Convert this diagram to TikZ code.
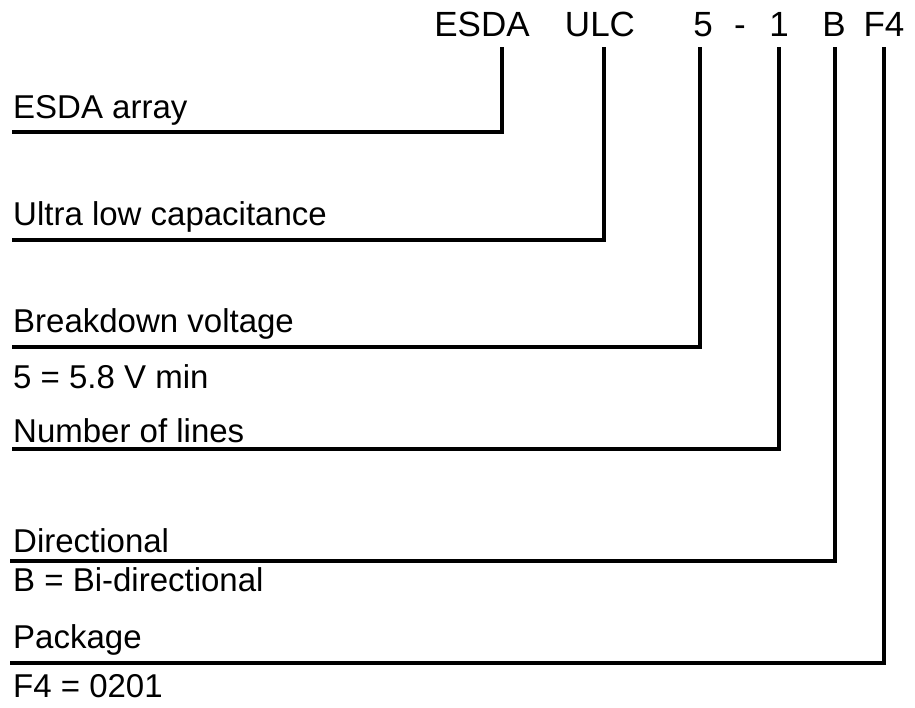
\documentclass[tikz,border=0pt]{standalone}
\usepackage{fontspec}
\setmainfont{Liberation Sans}
\begin{document}
\begin{tikzpicture}[
  x=1pt, y=-1pt,
  code/.style={anchor=base, inner sep=0pt, font=\fontsize{35}{40}\selectfont},
  lbl/.style={anchor=base west, inner sep=0pt, font=\fontsize{33}{38}\selectfont},
  lead/.style={line width=3.6pt}
]
  \useasboundingbox (0,0) rectangle (915,708);

  % part number
  \node[code] (esda) at (482, 37) {ESDA};
  \node[code] (ulc)  at (600, 37) {ULC};
  \node[code] (volt) at (703, 37) {5};
  \node[code] (dash) at (740, 37) {-};
  \node[code] (nlin) at (779, 37) {1};
  \node[code] (bidi) at (834, 37) {B};
  \node[code] (pkg)  at (884, 37) {F4};

  % field labels
  \node[lbl] (l1)  at (13, 119) {ESDA array};
  \node[lbl] (l2)  at (13, 226) {Ultra low capacitance};
  \node[lbl] (l3)  at (13, 333) {Breakdown voltage};
  \node[lbl] (l3b) at (13, 388) {5 = 5.8 V min};
  \node[lbl] (l4)  at (13, 442) {Number of lines};
  \node[lbl] (l5)  at (13, 552) {Directional};
  \node[lbl] (l5b) at (13, 591) {B = Bi-directional};
  \node[lbl] (l6)  at (13, 648) {Package};
  \node[lbl] (l6b) at (13, 697) {F4 = 0201};

  % leader lines
  \coordinate (s1) at (12, 132);  \coordinate (c1) at (502, 132);  \coordinate (t1) at (502, 47);
  \coordinate (s2) at (12, 240);  \coordinate (c2) at (604, 240);  \coordinate (t2) at (604, 47);
  \coordinate (s3) at (12, 347);  \coordinate (c3) at (700, 347);  \coordinate (t3) at (700, 47);
  \coordinate (s4) at (12, 449);  \coordinate (c4) at (779, 449);  \coordinate (t4) at (779, 47);
  \coordinate (s5) at (10, 561);  \coordinate (c5) at (835, 561);  \coordinate (t5) at (835, 47);
  \coordinate (s6) at (10, 663);  \coordinate (c6) at (884, 663);  \coordinate (t6) at (884, 47);
  \draw[lead] (s1) -- (c1) -- (t1);
  \draw[lead] (s2) -- (c2) -- (t2);
  \draw[lead] (s3) -- (c3) -- (t3);
  \draw[lead] (s4) -- (c4) -- (t4);
  \draw[lead] (s5) -- (c5) -- (t5);
  \draw[lead] (s6) -- (c6) -- (t6);
\end{tikzpicture}
\end{document}
